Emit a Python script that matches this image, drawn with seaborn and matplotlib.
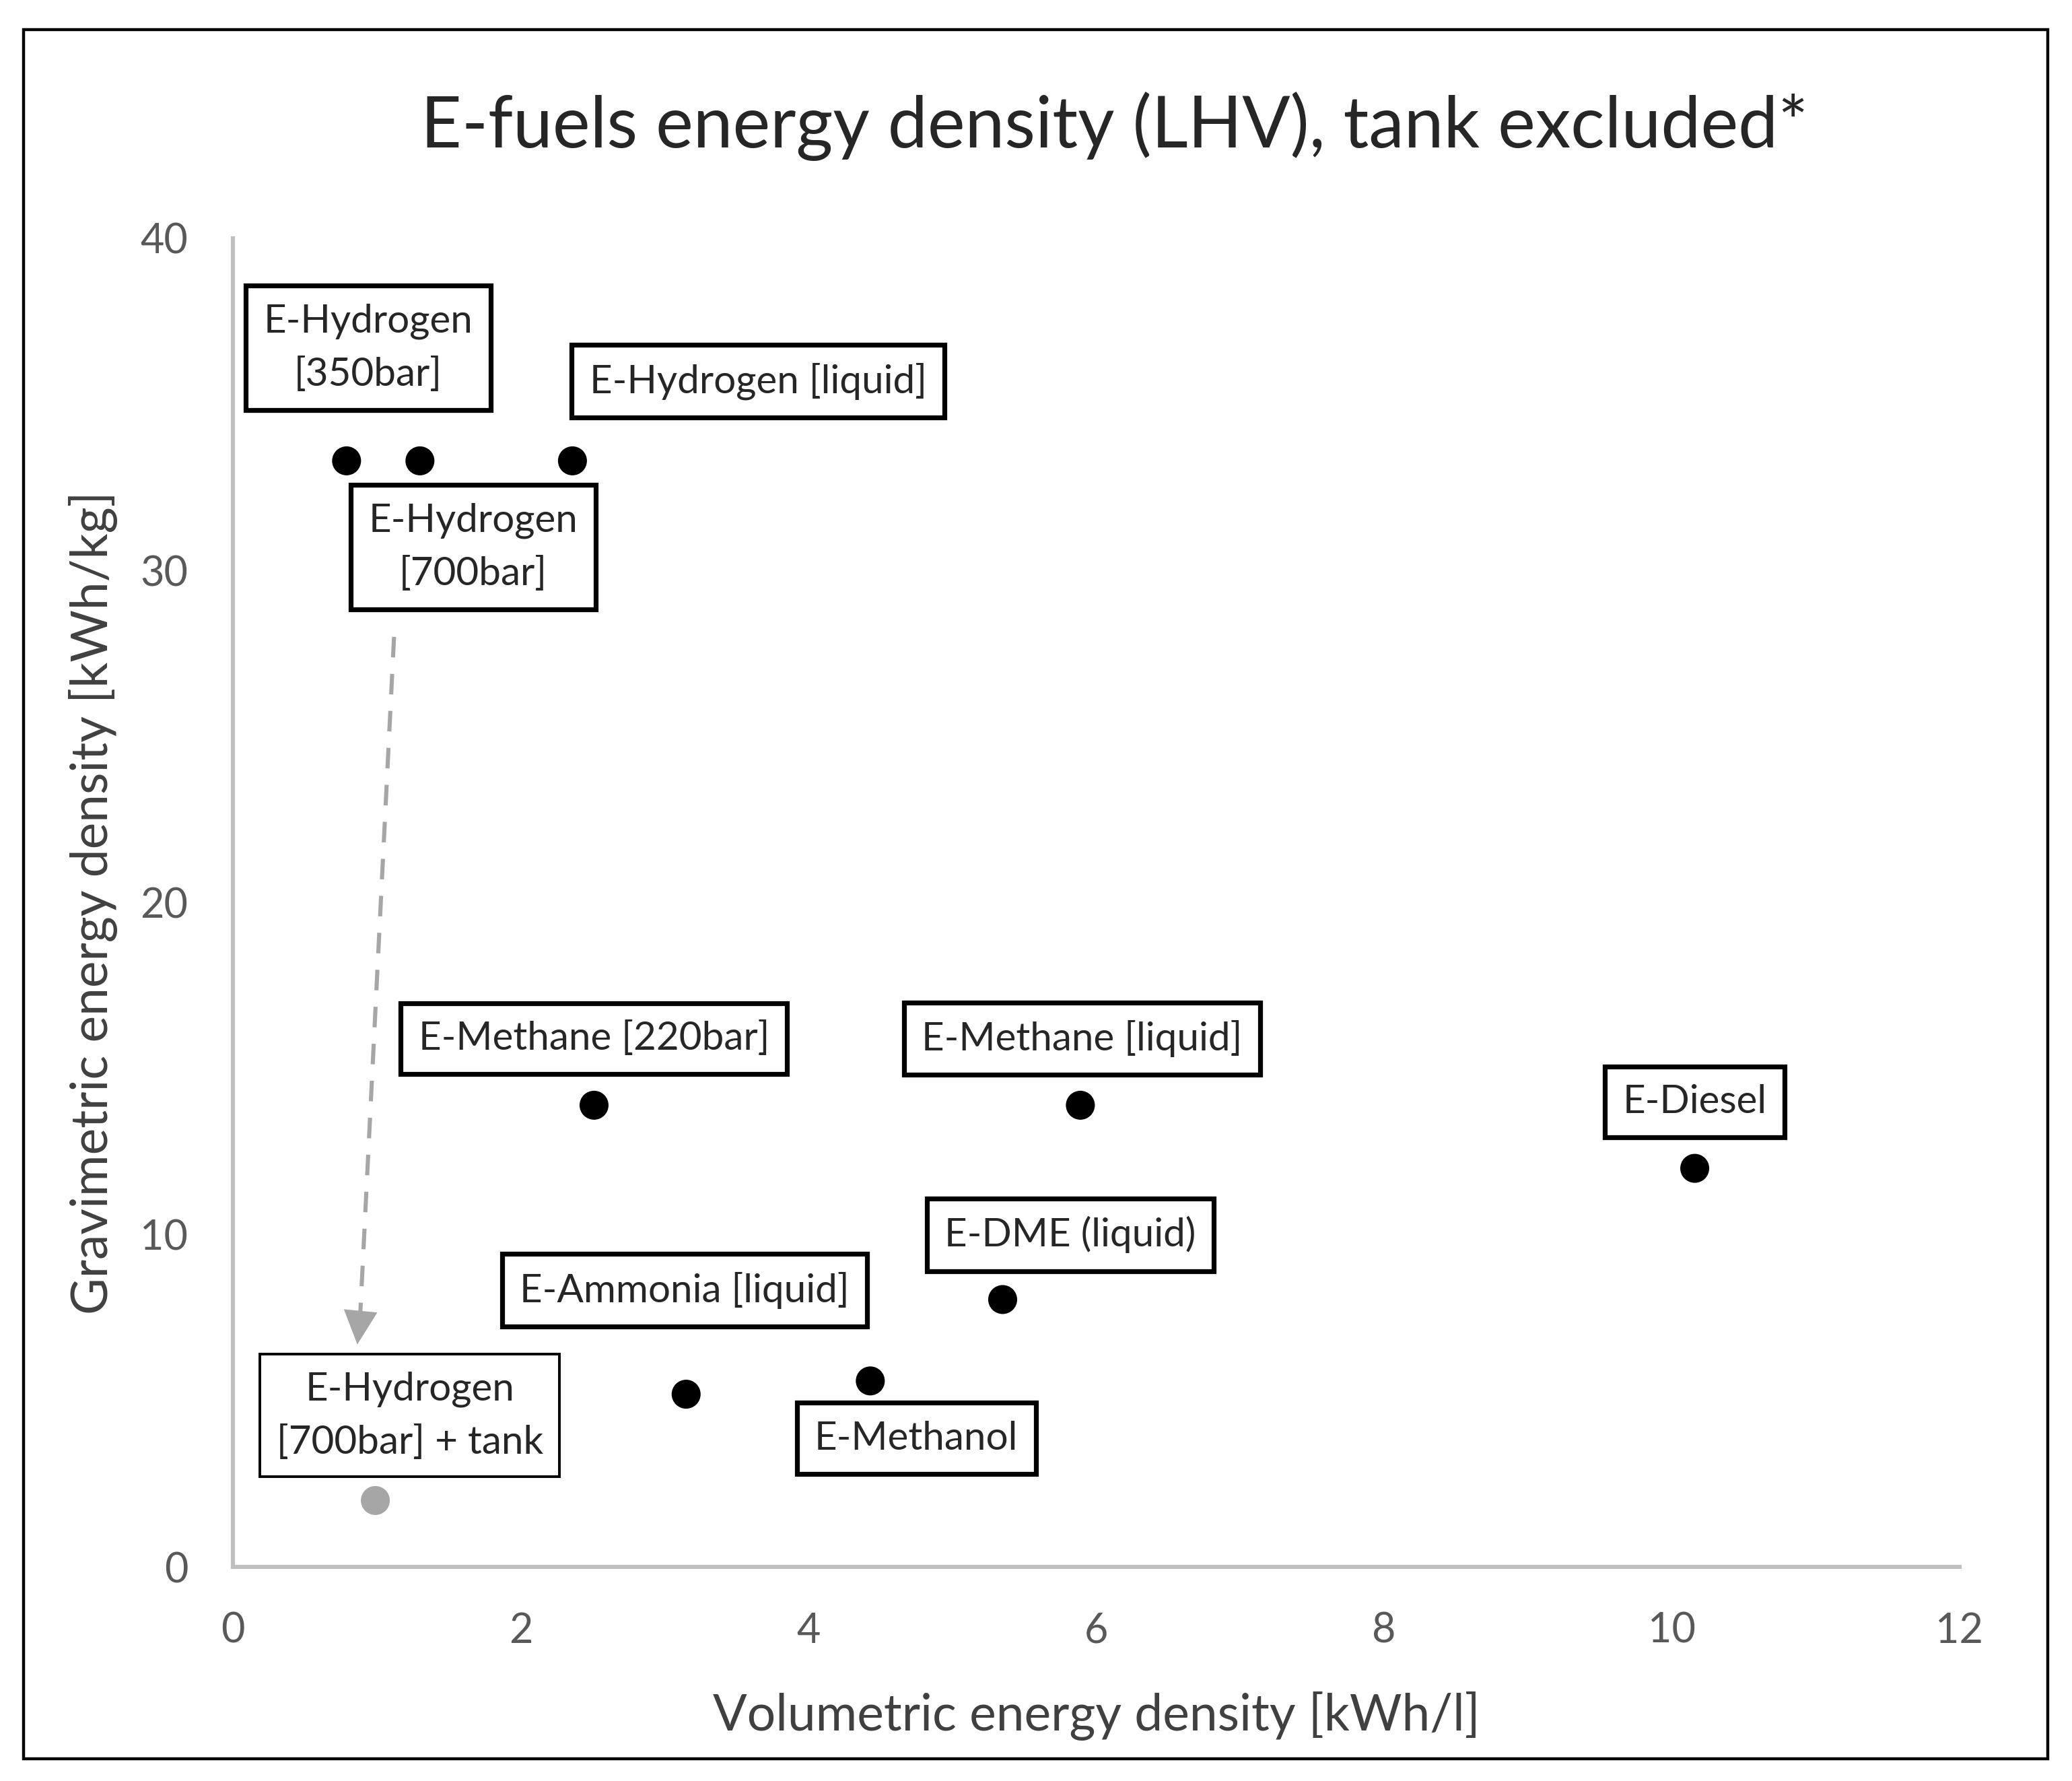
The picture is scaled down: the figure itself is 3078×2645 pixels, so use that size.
import numpy as np
import pandas as pd
import matplotlib
matplotlib.use('Agg')
import matplotlib.pyplot as plt
import seaborn as sns
from matplotlib.patches import Rectangle

# ── data ────────────────────────────────────────────────────────────
fuels = ['E-Hydrogen [350bar]', 'E-Hydrogen [700bar]', 'E-Hydrogen [liquid]',
         'E-Methane [220bar]', 'E-Methane [liquid]', 'E-Diesel',
         'E-DME (liquid)', 'E-Ammonia [liquid]', 'E-Methanol']
volumetric = [0.79, 1.30, 2.36, 2.51, 5.89, 10.16, 5.35, 3.15, 4.43]
gravimetric = [33.3, 33.3, 33.3, 13.9, 13.9, 12.0, 8.05, 5.2, 5.6]

tank_fuel = ['E-Hydrogen [700bar] + tank']
tank_vol = [0.99]
tank_grav = [2.0]

# label boxes: text, x, y
box_text = ['E-Hydrogen\n[350bar]', 'E-Hydrogen [liquid]', 'E-Hydrogen\n[700bar]',
            'E-Methane [220bar]', 'E-Methane [liquid]', 'E-Diesel',
            'E-DME (liquid)', 'E-Ammonia [liquid]', 'E-Methanol']
box_x = [0.94, 3.65, 1.67, 2.51, 5.90, 10.16, 5.82, 3.14, 4.75]
box_y = [36.7, 35.7, 30.7, 15.9, 15.9, 14.0, 10.0, 8.33, 3.87]

tank_box_text = 'E-Hydrogen\n[700bar] + tank'
tank_box_x, tank_box_y = 1.23, 4.55

# dashed arrow 700bar -> 700bar + tank
arrow_x = [1.12, 0.885]
arrow_y = [28.0, 7.6]
arrow_tip = (0.865, 6.7)

x_ticks = [0, 2, 4, 6, 8, 10, 12]
y_ticks = [0, 10, 20, 30, 40]

df = pd.DataFrame({'fuel': fuels, 'vol': volumetric, 'grav': gravimetric})
df_tank = pd.DataFrame({'fuel': tank_fuel, 'vol': tank_vol, 'grav': tank_grav})

sns.set_theme(style='white')
plt.rcParams['font.family'] = ['Lato', 'DejaVu Sans']

fig = plt.figure(figsize=(15.39, 13.225), dpi=200)
ax = fig.add_axes([0.1124, 0.1202, 0.8333, 0.746])

sns.scatterplot(data=df, x='vol', y='grav', color='black', s=240,
                edgecolor='none', ax=ax, zorder=3)
sns.scatterplot(data=df_tank, x='vol', y='grav', color='#A6A6A6', s=240,
                edgecolor='none', ax=ax, zorder=3)

# arrow
ax.plot(arrow_x, arrow_y, color='#A6A6A6', lw=2.2, ls=(0, (5, 4)), zorder=2)
ax.annotate('', xy=arrow_tip, xytext=(arrow_x[1], arrow_y[1]),
            arrowprops=dict(arrowstyle='-|>', color='#A6A6A6', lw=0,
                            mutation_scale=45, shrinkA=0, shrinkB=0))

# label boxes
for t, bx, by in zip(box_text, box_x, box_y):
    ax.text(bx, by, t, ha='center', va='center', fontsize=21, color='#262626',
            linespacing=1.6,
            bbox=dict(boxstyle='square,pad=0.45', fc='white', ec='black', lw=2.6),
            zorder=4)
ax.text(tank_box_x, tank_box_y, tank_box_text, ha='center', va='center',
        fontsize=21, color='#262626', linespacing=1.6,
        bbox=dict(boxstyle='square,pad=0.42', fc='white', ec='black', lw=1.4),
        zorder=4)

ax.set_xlim(0, 12)
ax.set_ylim(0, 40)
ax.set_xticks(x_ticks)
ax.set_yticks(y_ticks)
ax.tick_params(axis='both', length=0, labelsize=22, labelcolor='#595959')
ax.tick_params(axis='x', pad=24)
ax.tick_params(axis='y', pad=24)
for side in ['top', 'right']:
    ax.spines[side].set_visible(False)
for side in ['left', 'bottom']:
    ax.spines[side].set_color('#BFBFBF')
    ax.spines[side].set_linewidth(2.2)
ax.grid(False)

ax.set_xlabel('Volumetric energy density [kWh/l]', fontsize=27, color='#404040',
              labelpad=22)
ax.set_ylabel('Gravimetric energy density [kWh/kg]', fontsize=27, color='#404040',
              labelpad=12)

fig.text(0.538, 0.929, 'E-fuels energy density (LHV), tank excluded*',
         ha='center', va='center', fontsize=38, color='#262626')

# outer frame
fig.patches.append(Rectangle((0.0114, 0.0125), 0.977, 0.971, transform=fig.transFigure,
                             fill=False, ec='black', lw=1.6))

fig.savefig('out.png', dpi=200, facecolor='white')
